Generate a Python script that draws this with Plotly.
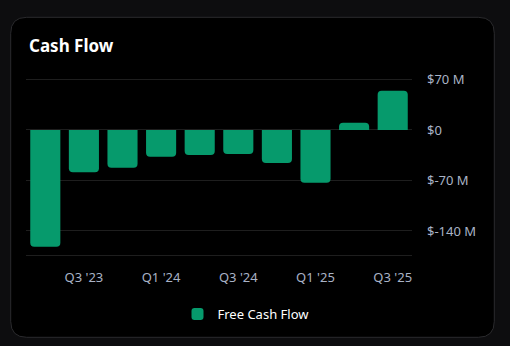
import plotly.graph_objects as go

quarters = ["Q2 '23", "Q3 '23", "Q4 '23", "Q1 '24", "Q2 '24", "Q3 '24",
            "Q4 '24", "Q1 '25", "Q2 '25", "Q3 '25"]
free_cash_flow = [-161.7, -58.7, -52.2, -37.0, -34.7, -33.3, -45.7, -73.0, 10.0, 54.5]
y_tick_vals = [70, 0, -70, -140]
y_tick_text = ["$70 M", "$0", "$-70 M", "$-140 M"]
x_tick_vals = quarters[1::2]

W, H = 510, 346
L, R, T, B = 26, 98, 72, 91
PW, PH = W - L - R, H - T - B

def px(x):
    return (x - L) / PW

def py(y):
    return (H - B - y) / PH

def rounded_rect(x0, y0, x1, y1, r):
    return (f"M {px(x0+r)},{py(y0)} L {px(x1-r)},{py(y0)} "
            f"Q {px(x1)},{py(y0)} {px(x1)},{py(y0+r)} "
            f"L {px(x1)},{py(y1-r)} Q {px(x1)},{py(y1)} {px(x1-r)},{py(y1)} "
            f"L {px(x0+r)},{py(y1)} Q {px(x0)},{py(y1)} {px(x0)},{py(y1-r)} "
            f"L {px(x0)},{py(y0+r)} Q {px(x0)},{py(y0)} {px(x0+r)},{py(y0)} Z")

fig = go.Figure()
fig.add_trace(go.Bar(
    x=quarters, y=free_cash_flow, name="Free Cash Flow",
    marker=dict(color="#069a6c", line=dict(width=0)),
    showlegend=True,
))

fig.update_layout(
    width=W, height=H,
    margin=dict(l=L, r=R, t=T, b=B),
    paper_bgcolor="#0d0d0f",
    plot_bgcolor="rgba(0,0,0,0)",
    bargap=0.22,
    barcornerradius=4,
    font=dict(family="Noto Sans, Open Sans, sans-serif", color="#a9b3c6", size=13),
    title=dict(text="<b>Cash Flow</b>", xref="container", yref="container",
               x=29 / W, y=1 - 46 / H, xanchor="left", yanchor="middle",
               font=dict(size=17, color="#ffffff", family="Noto Sans, sans-serif")),
    legend=dict(orientation="h", x=px(246), y=py(314), xanchor="center", yanchor="middle",
                font=dict(color="#ffffff", size=13), bgcolor="rgba(0,0,0,0)"),
    shapes=[dict(type="path", xref="paper", yref="paper", layer="below",
                 path=rounded_rect(10.7, 17.3, 494.3, 337.3, 16),
                 fillcolor="#000000", line=dict(color="#2b2b2e", width=1))],
)

fig.update_xaxes(
    tickmode="array", tickvals=x_tick_vals, showgrid=False,
    showline=True, linecolor="#1e1e1e", linewidth=1,
    ticks="", ticklabelstandoff=10, zeroline=False,
    tickfont=dict(size=13, color="#a9b3c6"),
)
fig.update_yaxes(
    side="right", range=[-173.3, 80.4], tickmode="array",
    tickvals=y_tick_vals, ticktext=y_tick_text,
    showgrid=True, gridcolor="#1e1e1e", gridwidth=1,
    zeroline=True, zerolinecolor="#1e1e1e", zerolinewidth=1,
    ticks="", ticklabelstandoff=14,
    tickfont=dict(size=13, color="#a9b3c6"),
)

fig.write_html("out.html")
